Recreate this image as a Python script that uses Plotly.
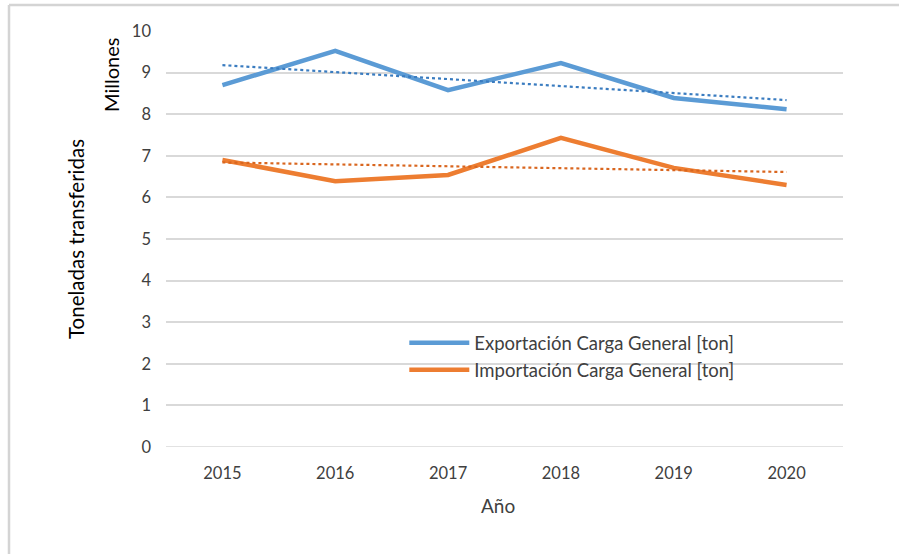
import plotly.graph_objects as go

years = [2015, 2016, 2017, 2018, 2019, 2020]
exportacion = [8.70, 9.52, 8.58, 9.23, 8.39, 8.12]
importacion = [6.90, 6.39, 6.54, 7.43, 6.71, 6.30]
trend_years = [2015, 2020]
export_trend = [9.18, 8.34]
import_trend = [6.84, 6.61]
y_ticks = [0, 1, 2, 3, 4, 5, 6, 7, 8, 9, 10]

BLUE = "#5B9BD5"
ORANGE = "#ED7D31"
FONT = "Lato, 'Open Sans', sans-serif"
TXT = "#404040"

W, H = 899, 554
L, R, T, B = 166, 56, 31, 107
PW, PH = W - L - R, H - T - B  # 677 x 416


def px_x(p):
    return (p - L) / PW


def px_y(p):
    return (H - B - p) / PH


fig = go.Figure()
fig.add_trace(go.Scatter(x=years, y=exportacion, mode="lines",
                         name="Exportación Carga General [ton]",
                         line=dict(color=BLUE, width=4.5)))
fig.add_trace(go.Scatter(x=years, y=importacion, mode="lines",
                         name="Importación Carga General [ton]",
                         line=dict(color=ORANGE, width=4.5)))
fig.add_trace(go.Scatter(x=trend_years, y=export_trend, mode="lines",
                         showlegend=False,
                         line=dict(color="#3A7CC0", width=2.2, dash="dot")))
fig.add_trace(go.Scatter(x=trend_years, y=import_trend, mode="lines",
                         showlegend=False,
                         line=dict(color="#D9661F", width=2.2, dash="dot")))

fig.update_layout(
    width=W, height=H,
    margin=dict(l=L, r=R, t=T, b=B),
    paper_bgcolor="white", plot_bgcolor="white",
    font=dict(family=FONT, size=16, color=TXT),
    showlegend=True,
    legend=dict(x=0.352, y=0.295, xanchor="left", yanchor="top",
                bgcolor="rgba(255,255,255,0)", itemwidth=60,
                font=dict(family=FONT, size=18.5, color=TXT),
                tracegroupgap=0),
    xaxis=dict(type="linear", range=[2014.5, 2020.5], tickvals=years,
               ticktext=[str(y) for y in years], showgrid=False,
               zeroline=False, showline=False, ticks="",
               ticklabelstandoff=14,
               tickfont=dict(size=16.5, color=TXT)),
    yaxis=dict(range=[0, 10], tickvals=y_ticks, showgrid=True,
               gridcolor="#D9D9D9", gridwidth=1.5, zeroline=False,
               showline=False, ticks="", ticklabelstandoff=14,
               tickfont=dict(size=16.5, color=TXT)),
)
fig.add_shape(type="line", xref="paper", yref="y", x0=0, x1=1, y0=0, y1=0,
              line=dict(color="#D9D9D9", width=1.5), layer="below")
fig.add_annotation(text="Millones", xref="paper", yref="paper",
                   x=px_x(111), y=px_y(36),
                   xanchor="center", yanchor="top",
                   textangle=-90, showarrow=False,
                   font=dict(family=FONT, size=20, color="#000000"))
fig.add_annotation(text="Toneladas transferidas", xref="paper", yref="paper",
                   x=px_x(76), y=0.5,
                   xanchor="center", yanchor="middle",
                   textangle=-90, showarrow=False,
                   font=dict(family=FONT, size=20.5, color="#000000"))
fig.add_annotation(text="Año", xref="paper", yref="paper",
                   x=0.49, y=px_y(505),
                   xanchor="center", yanchor="middle", showarrow=False,
                   font=dict(family=FONT, size=19, color=TXT))
# outer chart border (top and left edges)
fig.add_shape(type="line", xref="paper", yref="paper",
              x0=px_x(9), x1=px_x(W), y0=px_y(5), y1=px_y(5),
              line=dict(color="#D4D4D4", width=2.5))
fig.add_shape(type="line", xref="paper", yref="paper",
              x0=px_x(9), x1=px_x(9), y0=px_y(5), y1=px_y(H),
              line=dict(color="#D4D4D4", width=2.5))

fig.write_html(
    "out.html",
    config={"displayModeBar": False},
    post_script="document.body.style.margin='0';"
                "document.documentElement.style.overflow='hidden';",
)
